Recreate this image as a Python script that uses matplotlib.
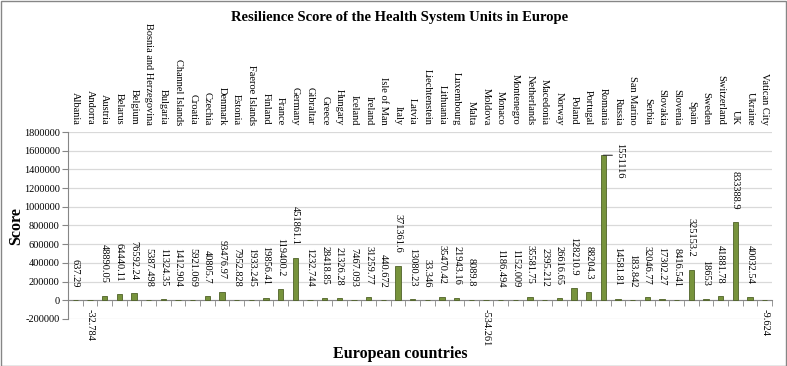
import matplotlib
matplotlib.use("Agg")
import matplotlib.pyplot as plt
from matplotlib.patches import Rectangle
import numpy as np

plt.rcParams['font.family'] = ['Liberation Serif', 'DejaVu Serif']

countries = ["Albania", "Andorra", "Austria", "Belarus", "Belgium", "Bosnia and Herzegovina",
             "Bulgaria", "Channel Islands", "Croatia", "Czechia", "Denmark", "Estonia",
             "Faeroe Islands", "Finland", "France", "Germany", "Gibraltar", "Greece",
             "Hungary", "Iceland", "Ireland", "Isle of Man", "Italy", "Latvia",
             "Liechtenstein", "Lithuania", "Luxembourg", "Malta", "Moldova", "Monaco",
             "Montenegro", "Netherlands", "Macedonia", "Norway", "Poland", "Portugal",
             "Romania", "Russia", "San Marino", "Serbia", "Slovakia", "Slovenia",
             "Spain", "Sweden", "Switzerland", "UK", "Ukraine", "Vatican City"]
scores = [637.29, -32.784, 48890.05, 64440.11, 76592.24, 5387.498,
          11324.35, 1412.904, 5921.069, 40805.7, 93476.97, 7952.828,
          1933.245, 19856.41, 119400.2, 451861.1, 1232.744, 28418.85,
          21326.28, 7467.093, 31259.77, 440.672, 371361.6, 13080.23,
          33.346, 35470.42, 21943.16, 8089.8, -534.261, 1186.494,
          1152.009, 35581.75, 2395.212, 26616.65, 128210.9, 88204.3,
          1551116, 14581.81, 183.842, 32046.77, 17302.27, 8416.541,
          325153.2, 18653, 41881.78, 833388.9, 40032.54, -9.624]
yticks = [-200000, 0, 200000, 400000, 600000, 800000, 1000000, 1200000, 1400000, 1600000, 1800000]

W, H = 787, 366
fig = plt.figure(figsize=(W / 100, H / 100), dpi=100)
ax = fig.add_axes([68 / W, 1 - 319 / H, (772 - 68) / W, (319 - 132) / H])

x = np.arange(len(countries))
ax.bar(x, scores, width=0.35, color='#77933c', edgecolor='#4f6228', linewidth=0.6, zorder=3)

ax.set_xlim(-0.5, len(countries) - 0.5)
ax.set_ylim(yticks[0], yticks[-1])
ax.set_yticks(yticks)
ax.set_yticklabels([str(v) for v in yticks], fontsize=7.5)
ax.yaxis.grid(True, color='#d9d9d9', linewidth=0.9, zorder=0)
ax.set_axisbelow(True)

for s in ['top', 'right']:
    ax.spines[s].set_visible(False)
ax.spines['left'].set_color('#868686')
ax.spines['bottom'].set_color('#868686')
ax.spines['bottom'].set_position(('data', 0))
ax.tick_params(axis='y', length=4, color='#868686', pad=2)

ax.set_xticks(x)
ax.set_xticklabels(countries, rotation=270, fontsize=7.5)
ax.tick_params(axis='x', which='major', labeltop=True, labelbottom=False,
               top=False, bottom=False, length=0, pad=5)
ax.set_xticks(np.arange(len(countries) + 1) - 0.5, minor=True)
ax.tick_params(axis='x', which='minor', bottom=True, top=False, length=4,
               direction='out', color='#868686')

px = 0.72  # points per pixel
imax = int(np.argmax(scores))
for i, v in enumerate(scores):
    lab = f"{v:g}" if abs(v) < 1e6 else f"{v:.0f}"
    lab = str(v) if not float(v).is_integer() else str(int(v))
    if i == imax:
        ax.annotate(lab, (i, v), xytext=(16 * px, -5 * px), textcoords='offset points',
                    rotation=270, ha='center', va='center', fontsize=7.5,
                    annotation_clip=False)
        ax.annotate('', (i, v), xytext=(9 * px, 0), textcoords='offset points',
                    arrowprops=dict(arrowstyle='-', color='#333333', lw=0.8,
                                    shrinkA=0, shrinkB=0))
    elif v >= 0:
        ax.annotate(lab, (i, v), xytext=(0, 13 * px), textcoords='offset points',
                    rotation=270, ha='center', va='bottom', fontsize=7.5,
                    annotation_clip=False)
    else:
        ax.annotate(lab, (i, 0), xytext=(0, -9 * px), textcoords='offset points',
                    rotation=270, ha='center', va='top', fontsize=7.5,
                    annotation_clip=False)

fig.text(400 / W, 1 - 18 / H, "Resilience Score of the Health System Units in Europe",
         ha='center', va='center', fontsize=10.5, fontweight='bold')
fig.text(16 / W, 1 - 226 / H, "Score", rotation=90, ha='center', va='center',
         fontsize=11.5, fontweight='bold')
fig.text(400 / W, 1 - 354 / H, "European countries", ha='center', va='center',
         fontsize=11.5, fontweight='bold')

fig.patches.append(Rectangle((0.5 / W, 0.5 / H), 1 - 1.5 / W, 1 - 1.5 / H,
                             transform=fig.transFigure, fill=False,
                             edgecolor='#868686', linewidth=1))

fig.savefig("out.png", dpi=100)
